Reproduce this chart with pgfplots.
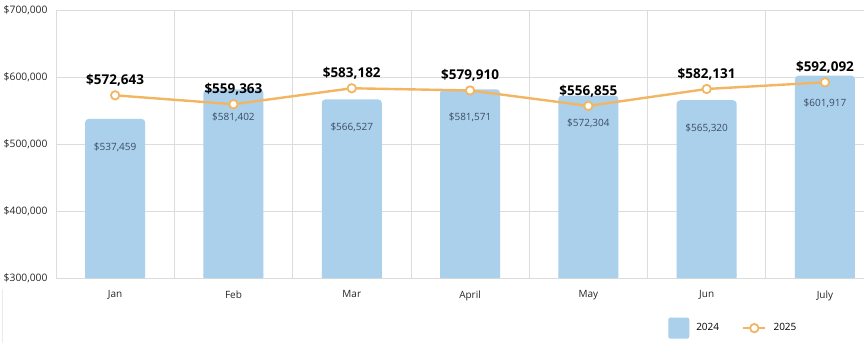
\documentclass[border=0pt]{standalone}
\usepackage{pgfplots}
\pgfplotsset{compat=1.18}
\usepackage{fontspec}
\setmainfont{Open Sans}
\definecolor{barblue}{HTML}{ABD0EC}
\definecolor{lineorange}{HTML}{F2B663}
\definecolor{gridgray}{HTML}{DCDCDC}
\definecolor{barlabel}{HTML}{3B4D61}
\begin{document}
\begin{tikzpicture}
\path[use as bounding box] (0,0) rectangle (864pt,343pt);
\draw[gridgray!60, line width=0.6pt] (2pt,0pt) -- (2pt,54pt);
\begin{axis}[
  at={(56pt,65pt)}, anchor=south west,
  scale only axis, width=808pt, height=268pt,
  xmin=-0.5, xmax=6.33,
  ymin=300000, ymax=700000,
  axis line style={draw=none},
  clip=false,
  xtick={0,1,2,3,4,5,6},
  xticklabels={Jan,Feb,Mar,April,May,Jun,July},
  minor xtick={-0.5,0.5,1.5,2.5,3.5,4.5,5.5},
  ytick={300000,400000,500000,600000,700000},
  scaled y ticks=false,
  major tick length=0pt, minor tick length=0pt,
  xminorgrids=true, ymajorgrids=true, xmajorgrids=false,
  grid style={gridgray, line width=0.8pt},
  minor grid style={gridgray, line width=0.8pt},
  /pgf/number format/.cd, fixed, precision=0, 1000 sep={,}, assume math mode=true,
  /pgfplots/.cd,
  yticklabel={\$\pgfmathprintnumber{\tick}},
  yticklabel style={font=\fontsize{10.3}{12}\selectfont, anchor=east, xshift=-5pt, text=black!85},
  xticklabel style={font=\fontsize{10}{12}\selectfont, yshift=-9pt, text=black!85},
  legend style={at={(0.7575,-0.187)}, anchor=west, draw=none, fill=none,
    font=\fontsize{10}{12}\selectfont, column sep=5pt, inner sep=0pt,
    /tikz/column 2/.style={column sep=21pt}},
  legend columns=4,
]
\addplot[ybar, bar width=60pt, bar shift=0pt, fill=barblue, draw=none, rounded corners=3.5pt,
  nodes near coords={\$\pgfmathprintnumber{\pgfplotspointmeta}},
  every node near coord/.append style={anchor=center, yshift=-28pt, text=barlabel, font=\fontsize{10}{12}\selectfont},
  legend image code/.code={\fill[barblue, rounded corners=2pt] (0pt,-10.5pt) rectangle (21pt,10.5pt);}
] coordinates {
(0,537459) (1,581402) (2,566527) (3,581571) (4,572304) (5,565320) (6,601917)
};
\addlegendentry{2024}
% square off the bottom corners of the bars
\addplot[ybar, bar width=60pt, bar shift=0pt, fill=barblue, draw=none, forget plot] coordinates {
(0,306000) (1,306000) (2,306000) (3,306000) (4,306000) (5,306000) (6,306000)
};
\addplot[lineorange, line width=2.4pt, mark=*, mark size=4.2pt,
  mark options={fill=white, draw=lineorange, line width=1.8pt},
  nodes near coords={\$\pgfmathprintnumber{\pgfplotspointmeta}},
  every node near coord/.append style={anchor=center, yshift=15pt, text=black, font=\fontsize{13.5}{15}\bfseries},
  legend image code/.code={\draw[lineorange, line width=2.4pt] (0pt,0pt) -- (22pt,0pt);
    \draw[lineorange, fill=white, line width=1.8pt] (11pt,0pt) circle (4.2pt);}
] coordinates {
(0,572643) (1,559363) (2,583182) (3,579910) (4,556855) (5,582131) (6,592092)
};
\addlegendentry{2025}
\end{axis}
\end{tikzpicture}
\end{document}
